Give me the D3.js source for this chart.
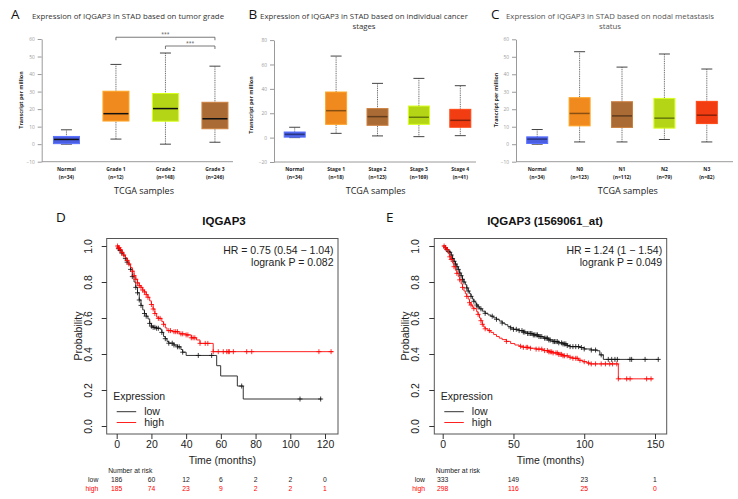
<!DOCTYPE html>
<html><head><meta charset="utf-8">
<script src="https://cdn.jsdelivr.net/npm/d3@7"></script>
<style>body{margin:0;background:#fff}svg{display:block}</style>
</head><body><svg id="c" width="738" height="499"></svg>
<script>
// ---------------- DATA ----------------
// Panel A: tumor grade
const gradeCats = ["Normal","Grade 1","Grade 2","Grade 3"];
const gradeN = ["(n=34)","(n=12)","(n=148)","(n=246)"];
const gradeLo = [0, 2.9, 0, 1.1];
const gradeQ1 = [0.3, 13.2, 13.1, 8.8];
const gradeMed = [2.7, 17.4, 20.3, 14.5];
const gradeQ3 = [4.4, 30.2, 28.9, 23.9];
const gradeHi = [8.2, 45.5, 52, 44.5];
const gradeTicks = [-10,0,10,20,30,40,50,60];
const gradeSig = [["Grade 1","Grade 3","***",61],["Grade 2","Grade 3","***",56]];

// Panel B: cancer stage
const stageCats = ["Normal","Stage 1","Stage 2","Stage 3","Stage 4"];
const stageN = ["(n=34)","(n=18)","(n=123)","(n=169)","(n=41)"];
const stageLo = [0, 3.5, 1.4, 0.8, 1.6];
const stageQ1 = [0.4, 10.9, 10.1, 10.9, 8.5];
const stageMed = [2.7, 22.1, 17.2, 16.7, 14.2];
const stageQ3 = [4.6, 37.4, 23.8, 25.9, 23.2];
const stageHi = [8.5, 66.9, 44.5, 48.6, 42.6];
const stageTicks = [-20,0,20,40,60,80];

// Panel C: nodal metastasis
const nodalCats = ["Normal","N0","N1","N2","N3"];
const nodalN = ["(n=34)","(n=123)","(n=112)","(n=79)","(n=82)"];
const nodalLo = [0, 1.3, 1.3, 2.7, 1.3];
const nodalQ1 = [0.4, 10.5, 9.6, 9.2, 11.8];
const nodalMed = [2.9, 17.6, 16.2, 14.9, 16.6];
const nodalQ3 = [4.2, 26.6, 24.3, 26.2, 24.5];
const nodalHi = [8.4, 52.9, 44.1, 51.6, 43];
const nodalTicks = [-10,0,10,20,30,40,50,60];

// Panel D: KM IQGAP3  [time (months), survival]
const dLowSteps = [[0,1],[1,0.985],[2,0.975],[3,0.96],[4,0.945],[5,0.93],[6,0.91],[7,0.895],[8,0.87],[9,0.83],[10,0.8],[11,0.77],[12,0.74],[13,0.7],[14,0.67],[15,0.645],[16,0.625],[17,0.61],[18,0.595],[19,0.57],[20,0.555],[21,0.548],[23,0.543],[25,0.538],[26,0.52],[27,0.497],[28,0.485],[29,0.47],[30,0.46],[33,0.45],[35,0.44],[37,0.425],[38,0.41],[40,0.392],[57.6,0.335],[59.9,0.278],[69.5,0.222],[72.9,0.15],[118,0.15]];
const dLowCens = [1,2,3,5,6,8,9,11,12,13,14,16,17,19,20,21,22,23,24,26,28,30,32,33,35,36,38,47,54.7,72,105.6,117.5];
const dHighSteps = [[0,1],[1,0.99],[2,0.98],[3,0.965],[4,0.95],[5,0.935],[6,0.92],[7,0.9],[8,0.88],[9,0.86],[10,0.835],[11,0.815],[12,0.795],[13,0.78],[14,0.77],[15,0.755],[16,0.745],[17,0.73],[18,0.715],[19,0.695],[20,0.675],[21,0.65],[22,0.625],[23,0.605],[24,0.598],[26,0.58],[27,0.565],[28,0.545],[29,0.53],[32,0.524],[36,0.512],[40,0.506],[43,0.49],[46,0.478],[48,0.459],[55.6,0.413],[124.8,0.413]];
const dHighCens = [0.5,1,1.5,2,3,4,6,7,9,10,11,12,13,14,15,16,17,18,20,21,22,24,25,27,30,31,33,34,35,37,38,40,41,43,44,45,48,51,52.5,55.6,58.5,61.4,63.4,64.3,64.9,67.2,74.9,77.8,116.5,123.5];
const dTicks = [0,20,40,60,80,100,120];
const dRiskLow = [186,60,12,6,2,2,0];
const dRiskHigh = [185,74,23,9,2,2,1];

// Panel E: KM IQGAP3 (1569061_at)
const eLowSteps = [[0,1],[2,0.99],[3,0.98],[4,0.97],[5,0.965],[6,0.95],[7,0.93],[8,0.915],[9,0.9],[10,0.885],[11,0.87],[12,0.85],[13,0.835],[14,0.815],[15,0.8],[16,0.785],[17,0.767],[18,0.75],[19,0.735],[20,0.72],[21,0.705],[22,0.693],[23,0.683],[24,0.672],[25,0.662],[26,0.651],[28,0.638],[30,0.626],[32,0.617],[34,0.61],[36,0.601],[38,0.593],[40,0.583],[42,0.572],[44,0.563],[46,0.553],[48,0.545],[50,0.537],[54,0.53],[57,0.522],[60,0.514],[64,0.506],[68,0.497],[71,0.488],[75,0.478],[78,0.469],[82,0.462],[85,0.456],[88,0.447],[90,0.441],[97,0.436],[100,0.428],[105,0.422],[109,0.418],[111,0.395],[113.5,0.37],[153,0.37]];
const eLowCens = [2,3,4,5,6,7,8,9,10,11,12,13,14,15,17,18,20,22,24,25,27,30,35,38,42,48,50,52,54,56,57,58,60,61,62,63,64,65,66,67,68,69,70,72,73,74,75,76,78,79,80,81,82,84,85,86,87,88,90,92,94,96,98,100,105,108,112,117,119.4,121.7,123.4,132.3,133.5,143,152.3];
const eHighSteps = [[0,1],[2,0.99],[3,0.98],[4,0.96],[5,0.94],[6,0.925],[7,0.905],[8,0.885],[9,0.865],[10,0.848],[11,0.83],[12,0.812],[13,0.79],[14,0.77],[15,0.75],[16,0.735],[17,0.72],[18,0.705],[19,0.685],[20,0.672],[21,0.66],[22,0.652],[24,0.635],[25,0.62],[26,0.6],[27,0.585],[28,0.565],[29,0.55],[30,0.54],[32,0.53],[34,0.52],[36,0.508],[38,0.497],[40,0.488],[42,0.48],[45,0.47],[48,0.458],[51,0.45],[54,0.443],[57,0.437],[62,0.432],[66,0.427],[71,0.419],[75,0.412],[78,0.406],[82,0.398],[85,0.39],[89,0.382],[92,0.376],[96,0.365],[99,0.357],[102,0.35],[104,0.345],[124.1,0.262],[148.8,0.262]];
const eHighCens = [1,2,3,5,6,8,10,12,14,17,19,20,22,25,27,28,30,33,45,55,57,59,60,62,66,68,70,72,74,75,76,77,78,80,81,82,83,84,85,86,88,90,92,94,95,97,100,103,105,108,112,115,118,120,123,124.1,130,132.4,144.1,147.2];
const eTicks = [0,50,100,150];
const eRiskLow = [333,149,23,1];
const eRiskHigh = [298,116,25,0];

const probTicks = [0,0.2,0.4,0.6,0.8,1.0];

// ---------------- DRAW ----------------
const svg = d3.select("#c");
const TOPF = "'Open Sans', 'DejaVu Sans', sans-serif";
const KMF = "'Liberation Sans', Arial, sans-serif";

const C_BLUE = "#4b5fe3", C_OR = "#f08a1f", C_GR = "#b4d516", C_BR = "#ab6b34", C_RD = "#f23c12";

function boxPanel(o){
  const g = svg.append("g");
  const x = d3.scaleBand().domain(o.cats).range([o.x0, o.x0 + o.step*o.cats.length]);
  const y = d3.scaleLinear().domain(o.domain).range([o.yb, o.yt]);
  const ax = d3.axisLeft(y).tickValues(o.ticks).tickSize(4).tickSizeOuter(0).tickPadding(3);
  const ga = g.append("g").attr("transform",`translate(${o.x0},0)`).call(ax);
  ga.select(".domain").attr("stroke","#9a9a9a");
  ga.selectAll(".tick line").attr("stroke","#9a9a9a");
  ga.selectAll(".tick text").attr("fill","#999").style("font",`4.8px ${TOPF}`);
  g.append("line").attr("x1",o.x0).attr("x2",o.xEnd)
    .attr("y1",y(o.domain[0])).attr("y2",y(o.domain[0])).attr("stroke","#9a9a9a");
  o.cats.forEach((c,i)=>{
    const cx = x(c) + x.bandwidth()/2;
    const col = o.colors[i];
    g.append("line").attr("x1",cx).attr("x2",cx).attr("y1",y(o.lo[i])).attr("y2",y(o.hi[i]))
      .attr("stroke","#666").attr("stroke-width",1).attr("stroke-dasharray","1,0.8");
    [o.lo[i],o.hi[i]].forEach(v=>{
      g.append("line").attr("x1",cx-5.5).attr("x2",cx+5.5).attr("y1",y(v)).attr("y2",y(v))
        .attr("stroke","#444").attr("stroke-width",1);
    });
    g.append("rect").attr("x",cx-o.bw/2).attr("width",o.bw)
      .attr("y",y(o.q3[i])).attr("height",y(o.q1[i])-y(o.q3[i]))
      .attr("fill",col).attr("stroke",d3.color(col).brighter(0.5)).attr("stroke-width",1);
    g.append("line").attr("x1",cx-o.bw/2+0.5).attr("x2",cx+o.bw/2-0.5).attr("y1",y(o.med[i])).attr("y2",y(o.med[i]))
      .attr("stroke",o.darkMed ? d3.color(col).darker(1.6) : "#111").attr("stroke-width",1.5);
    g.append("text").attr("x",cx).attr("y",171).attr("text-anchor","middle")
      .style("font",`bold 5px ${TOPF}`).attr("fill","#222").text(c);
    g.append("text").attr("x",cx).attr("y",179).attr("text-anchor","middle")
      .style("font",`bold 5px ${TOPF}`).attr("fill","#222").text(o.ns[i]);
  });
  if(o.sig){
    o.sig.forEach(s=>{
      const x1 = x(s[0])+x.bandwidth()/2, x2 = x(s[1])+x.bandwidth()/2, yy = y(s[3]);
      g.append("path").attr("d",`M${x1},${yy+3}V${yy}H${x2}V${yy+3}`)
        .attr("fill","none").attr("stroke","#555").attr("stroke-width",0.8);
      g.append("text").attr("x",(x1+x2)/2).attr("y",yy-1.2).attr("text-anchor","middle")
        .style("font",`5px ${TOPF}`).attr("fill","#555").text(s[2]);
    });
  }
  g.append("text").attr("transform",`translate(${o.ylx},${o.yly}) rotate(-90)`).attr("text-anchor","middle")
    .style("font",`bold 5.3px ${TOPF}`).attr("fill","#222").text(o.ylabel);
  g.append("text").attr("x",o.xlx).attr("y",194).attr("text-anchor","middle")
    .style("font",`9px ${TOPF}`).attr("fill","#222").text("TCGA samples");
  o.title.forEach((t,k)=>{
    g.append("text").attr("x",o.tx).attr("y",19+k*10.3).attr("text-anchor","middle")
      .style("font",`7.8px ${TOPF}`).attr("fill",o.tcol).text(t);
  });
  g.append("text").attr("x",o.lx).attr("y",18.5).style("font",`13.5px ${TOPF}`).attr("fill","#111").text(o.letter);
}

boxPanel({cats:gradeCats, ns:gradeN, lo:gradeLo, q1:gradeQ1, med:gradeMed, q3:gradeQ3, hi:gradeHi,
  ticks:gradeTicks, domain:[-10,60], x0:41.7, step:49.5, xEnd:233, yb:161.7, yt:39, bw:26,
  colors:[C_BLUE,C_OR,C_GR,C_BR], darkMed:false, sig:gradeSig,
  ylabel:"Transcript per million", ylx:23, yly:100, xlx:144,
  title:["Expression of IQGAP3 in STAD based on tumor grade"], tx:128, tcol:"#333", letter:"A", lx:11});

boxPanel({cats:stageCats, ns:stageN, lo:stageLo, q1:stageQ1, med:stageMed, q3:stageQ3, hi:stageHi,
  ticks:stageTicks, domain:[-20,80], x0:274, step:41.4, xEnd:476, yb:162, yt:40.1, bw:21,
  colors:[C_BLUE,C_OR,C_BR,C_GR,C_RD], darkMed:true, sig:null,
  ylabel:"Transcript per million", ylx:253, yly:105, xlx:375.7,
  title:["Expression of IQGAP3 in STAD based on individual cancer","stages"], tx:364, tcol:"#333", letter:"B", lx:248.5});

boxPanel({cats:nodalCats, ns:nodalN, lo:nodalLo, q1:nodalQ1, med:nodalMed, q3:nodalQ3, hi:nodalHi,
  ticks:nodalTicks, domain:[-10,60], x0:516, step:42.4, xEnd:733, yb:161.7, yt:39.3, bw:21,
  colors:[C_BLUE,C_OR,C_BR,C_GR,C_RD], darkMed:true, sig:null,
  ylabel:"Trancript per million", ylx:497.5, yly:100, xlx:627.8,
  title:["Expression of IQGAP3 in STAD based on nodal metastasis","status"], tx:610, tcol:"#555", letter:"C", lx:491});

function stepAt(steps, t){
  let p = steps[0][1];
  for(const s of steps){ if(s[0] <= t) p = s[1]; else break; }
  return p;
}

function kmPanel(o){
  const g = svg.append("g");
  const x = d3.scaleLinear().domain([0,o.xmax]).range([o.x0,o.x1]);
  const y = d3.scaleLinear().domain([0,1]).range([426,246]);
  const FT = 434, TOP = 238.5;
  g.append("rect").attr("x",o.fl).attr("y",TOP).attr("width",o.fr-o.fl).attr("height",FT-TOP)
    .attr("fill","none").attr("stroke","#555").attr("stroke-width",1);
  const xa = g.append("g").attr("transform",`translate(0,${FT})`)
    .call(d3.axisBottom(x).tickValues(o.xticks).tickSize(5).tickSizeOuter(0).tickPadding(2).tickFormat(d3.format("d")));
  xa.select(".domain").remove();
  xa.selectAll(".tick line").attr("stroke","#333");
  xa.selectAll(".tick text").attr("fill","#222").style("font",`10.5px ${KMF}`);
  const ya = g.append("g").attr("transform",`translate(${o.fl},0)`)
    .call(d3.axisLeft(y).tickValues(probTicks).tickSize(5).tickSizeOuter(0).tickFormat(d3.format(".1f")));
  ya.select(".domain").remove();
  ya.selectAll(".tick line").attr("stroke","#333");
  ya.selectAll(".tick text").attr("fill","#222").style("font",`10.5px ${KMF}`)
    .attr("transform","rotate(-90)").attr("x",0).attr("y",-15).attr("dy",0).attr("text-anchor","middle");
  g.append("text").attr("transform",`translate(${o.fl-25},336) rotate(-90)`).attr("text-anchor","middle")
    .style("font",`10.5px ${KMF}`).attr("fill","#222").text("Probability");
  g.append("text").attr("x",(o.fl+o.fr)/2).attr("y",464).attr("text-anchor","middle")
    .style("font",`10.5px ${KMF}`).attr("fill","#222").text("Time (months)");
  const line = d3.line().x(d=>x(d[0])).y(d=>y(d[1])).curve(d3.curveStepAfter);
  const series = [
    {steps:o.low, cens:o.lowC, col:"#333", mk:"#111"},
    {steps:o.high, cens:o.highC, col:"#ff2020", mk:"#ff0000"}
  ];
  series.forEach(s=>{
    g.append("path").attr("d",line(s.steps)).attr("fill","none").attr("stroke",s.col).attr("stroke-width",1);
    s.cens.forEach(t=>{
      const cx = x(t), cy = y(stepAt(s.steps,t));
      g.append("path").attr("d",`M${cx-2.5},${cy}H${cx+2.5}M${cx},${cy-2.5}V${cy+2.5}`)
        .attr("stroke",s.mk).attr("stroke-width",0.8);
    });
  });
  // legend
  g.append("text").attr("x",o.fl+6.5).attr("y",400).style("font",`10.5px ${KMF}`).attr("fill","#222").text("Expression");
  [["low","#333",411.7,415],["high","#ff2020",422.5,425.5]].forEach(l=>{
    g.append("line").attr("x1",o.fl+10).attr("x2",o.fl+29.5).attr("y1",l[2]).attr("y2",l[2]).attr("stroke",l[1]);
    g.append("text").attr("x",o.fl+37.5).attr("y",l[3]).style("font",`10.5px ${KMF}`).attr("fill","#222").text(l[0]);
  });
  // HR
  o.hr.forEach((t,k)=>{
    g.append("text").attr("x",o.fr-4.5).attr("y",253.5+k*12).attr("text-anchor","end")
      .style("font",`10.5px ${KMF}`).attr("fill","#222").text(t);
  });
  // title
  g.append("text").attr("x",o.tx).attr("y",225).attr("text-anchor","middle")
    .style("font",`bold 11.5px ${KMF}`).attr("fill","#111").text(o.title);
  g.append("text").attr("x",o.lx).attr("y",221.5).style("font",`13.5px ${TOPF}`).attr("fill","#111").text(o.letter);
  // number at risk
  g.append("text").attr("x",o.fl+1.5).attr("y",472.5).style("font",`6.8px ${KMF}`).attr("fill","#222").text("Number at risk");
  g.append("text").attr("x",o.rl).attr("y",482).attr("text-anchor","end").style("font",`6.8px ${KMF}`).attr("fill","#222").text("low");
  g.append("text").attr("x",o.rl).attr("y",490.5).attr("text-anchor","end").style("font",`6.8px ${KMF}`).attr("fill","#f00").text("high");
  o.xticks.forEach((t,i)=>{
    g.append("text").attr("x",x(t)).attr("y",482).attr("text-anchor","middle").style("font",`6.8px ${KMF}`).attr("fill","#222").text(o.rLow[i]);
    g.append("text").attr("x",x(t)).attr("y",490.5).attr("text-anchor","middle").style("font",`6.8px ${KMF}`).attr("fill","#f00").text(o.rHigh[i]);
  });
}

kmPanel({xmax:120, x0:116.7, x1:325, fl:106.7, fr:338, xticks:dTicks,
  low:dLowSteps, lowC:dLowCens, high:dHighSteps, highC:dHighCens,
  hr:["HR = 0.75 (0.54 \u2212 1.04)","logrank P = 0.082"], title:"IQGAP3", tx:224, letter:"D", lx:56,
  rl:98.3, rLow:dRiskLow, rHigh:dRiskHigh});

kmPanel({xmax:150, x0:442.7, x1:655, fl:434.3, fr:666.7, xticks:eTicks,
  low:eLowSteps, lowC:eLowCens, high:eHighSteps, highC:eHighCens,
  hr:["HR = 1.24 (1 \u2212 1.54)","logrank P = 0.049"], title:"IQGAP3 (1569061_at)", tx:545, letter:"E", lx:386,
  rl:425, rLow:eRiskLow, rHigh:eRiskHigh});
</script></body></html>
